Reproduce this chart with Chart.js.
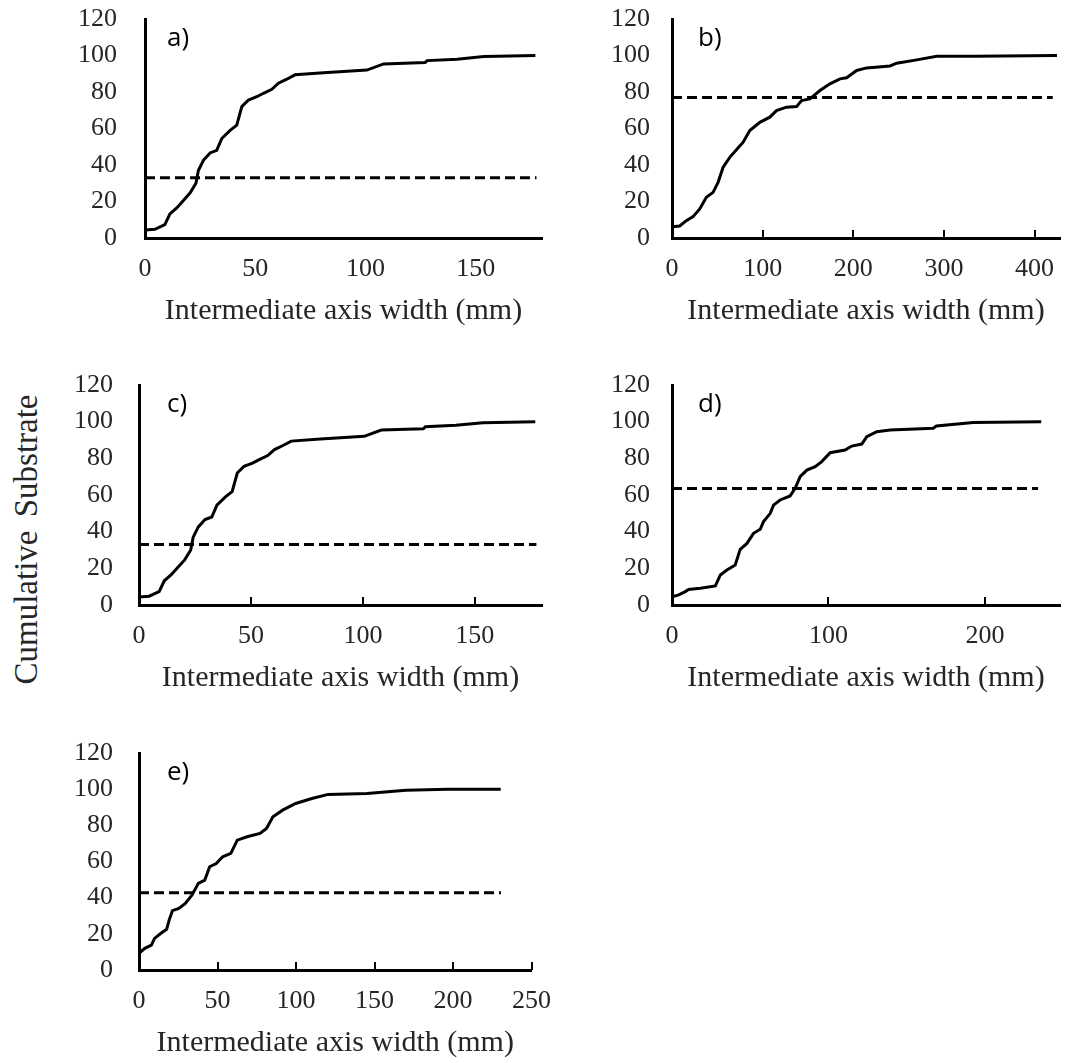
<!DOCTYPE html>
<html>
<head>
<meta charset="utf-8">
<script src="https://cdn.jsdelivr.net/npm/chart.js@4.4.1/dist/chart.umd.min.js"></script>
<style>
  body { margin: 0; background: #fff; }
  #page { position: relative; width: 1080px; height: 1063px; overflow: hidden; background: #fff; }
  canvas { position: absolute; }
  #ytitle {
    position: absolute;
    left: -134px; top: 523px;
    width: 320px; height: 33px; line-height: 33px;
    font-family: 'Liberation Serif', serif; font-size: 33px;
    word-spacing: 5px;
    text-align: center; white-space: nowrap; color: #262626;
    transform: rotate(-90deg);
  }
</style>
</head>
<body>
<div id="page">
  <div id="ytitle">Cumulative Substrate</div>
</div>
<script>
// ---- data (x: intermediate axis width, mm; y: cumulative %) ----
// panel a and c show the same distribution
const widthAC = [0, 4.5, 9, 11.3, 14.4, 17.4, 20.4, 23.1, 24.2, 26.5, 29.5, 32.5, 34.8, 38.6, 41.6, 43.9, 46.9, 50.7, 53.7, 57.5, 60.5, 64.3, 68, 81, 100.6, 108.2, 127, 127.9, 141.5, 153.6, 177];
const cumAC   = [4.4, 4.8, 7.3, 13.2, 16.5, 20.6, 24.6, 30, 37, 42.6, 46.6, 48, 54.5, 59, 61.8, 72, 75.6, 77.4, 79.3, 81.5, 84.8, 87, 89.4, 90.6, 92, 95.4, 96.1, 97.2, 98, 99.4, 100];

const widthB = [0, 8.5, 15.8, 23.2, 30.6, 37.9, 45.3, 50.8, 56.4, 63.7, 71.1, 78.5, 85.8, 96.9, 107.9, 115.3, 126.3, 137.4, 142.9, 152.1, 163.2, 174.2, 185.3, 192.6, 203.7, 214.7, 240.5, 247.9, 270, 292, 332.6, 424.7];
const cumB   = [6.2, 6.6, 9.5, 11.7, 15.9, 22.3, 25, 30.5, 38.8, 44.2, 48.3, 52.5, 58.9, 63.4, 66.2, 69.8, 71.7, 72, 75.3, 76.2, 80.8, 84.5, 87.2, 87.8, 91.8, 93.2, 94.3, 95.8, 97.6, 99.6, 99.6, 100];

const widthD = [0, 4.3, 8.5, 10.6, 18.1, 27.7, 30.9, 35.1, 40.4, 43.6, 47.9, 52.1, 56.4, 58.5, 62.8, 64.9, 69.1, 75.5, 78.7, 81.9, 86.2, 91.5, 95.7, 101.1, 110.6, 114.9, 121.3, 124.5, 130.9, 139.4, 167, 169, 192.6, 236];
const cumD   = [4.5, 5.5, 7.3, 8.5, 9.1, 10.4, 16.4, 19.1, 21.8, 30.4, 33.6, 39.1, 41.3, 45.5, 50, 54.5, 57.3, 59.5, 63.6, 70, 73.6, 75.5, 78.2, 83.1, 84.5, 86.7, 87.8, 91.8, 94.5, 95.5, 96.4, 97.6, 99.5, 100];

const widthE = [0, 3.7, 7.9, 9.9, 14, 17.6, 19.2, 21.3, 25.4, 29.5, 33.7, 37.8, 41.9, 45, 49.2, 53.3, 58.5, 62.6, 68.8, 77.1, 81.2, 85.3, 91.5, 99.8, 110.1, 120.5, 145.2, 170, 196.9, 230.4];
const cumE   = [9.2, 12, 13.8, 17.5, 20.3, 22.5, 27.6, 32.8, 34.1, 36.8, 41.4, 47.9, 49.7, 57.1, 58.9, 62.6, 64.5, 71.8, 73.7, 75.5, 78.3, 84.7, 88.4, 92.1, 94.8, 97.1, 97.6, 99.4, 100, 100];

// dashed reference levels and where the dashed line stops
const refLevel = { a: 33, b: 77, c: 33, d: 63.6, e: 42.7 };
const refEnd   = { a: 177.5, b: 420, c: 177.5, d: 234, e: 230.5 };

// axis limits
const xMaxs  = { a: 180, b: 428, c: 180, d: 248, e: 250 };
const xSteps = { a: 50, b: 100, c: 50, d: 100, e: 50 };
const yTicks = [0, 20, 40, 60, 80, 100, 120];

const X_TITLE = 'Intermediate axis width (mm)';

// ---- layout (plot area in page pixels) ----
const YW = 80, RP = 25, XH = 95;
const panels = [
  { key: 'a', x: widthAC, y: cumAC, box: [145, 19, 542, 238], inner: false, yPad: 28, dx: 22 },
  { key: 'b', x: widthB,  y: cumB,  box: [672, 19, 1060, 238], inner: true, yPad: 22, dx: 26 },
  { key: 'c', x: widthAC, y: cumAC, box: [139, 385, 542, 605], inner: true, yPad: 26, dx: 28 },
  { key: 'd', x: widthD,  y: cumD,  box: [672, 385, 1060, 605], inner: true, yPad: 22, dx: 26 },
  { key: 'e', x: widthE,  y: cumE,  box: [139, 753, 542, 970], inner: true, yPad: 26, dx: 28 }
];

const TEXT = '#262626';
const serif = 'Liberation Serif';

// small upward tick marks on the x axis
const innerTicks = {
  id: 'innerTicks',
  afterDraw(chart, args, opts) {
    if (!opts.display) return;
    const { ctx, chartArea } = chart;
    const xs = chart.scales.x;
    ctx.save();
    ctx.strokeStyle = '#000';
    ctx.lineWidth = 2;
    xs.ticks.forEach(t => {
      const px = Math.round(xs.getPixelForValue(t.value));
      ctx.beginPath();
      ctx.moveTo(px, chartArea.bottom);
      ctx.lineTo(px, chartArea.bottom - opts.length);
      ctx.stroke();
    });
    ctx.restore();
  }
};

// "a)", "b)" ... inside the plot
const panelLabel = {
  id: 'panelLabel',
  afterDraw(chart, args, opts) {
    const { ctx, chartArea } = chart;
    ctx.save();
    ctx.font = '26px "Open Sans"';
    ctx.fillStyle = '#000';
    ctx.textBaseline = 'alphabetic';
    ctx.fillText(opts.text, chartArea.left + opts.dx, chartArea.top + opts.dy);
    ctx.restore();
  }
};

const page = document.getElementById('page');

panels.forEach(p => {
  const [l, t, r, b] = p.box;
  // y tick padding also pads the top of the plot, so leave room for it
  const TP = p.yPad + 17;
  const canvas = document.createElement('canvas');
  const w = YW + (r - l) + RP;
  const h = TP + (b - t) + XH;
  canvas.width = w;
  canvas.height = h;
  canvas.style.left = (l - YW) + 'px';
  canvas.style.top = (t - TP) + 'px';
  canvas.style.width = w + 'px';
  canvas.style.height = h + 'px';
  page.appendChild(canvas);

  new Chart(canvas, {
    type: 'scatter',
    data: {
      datasets: [{
        data: p.x.map((v, i) => ({ x: v, y: p.y[i] })),
        borderColor: '#000',
        borderWidth: 3,
        pointRadius: 0,
        showLine: true,
        tension: 0
      }, {
        data: [{ x: 0, y: refLevel[p.key] }, { x: refEnd[p.key], y: refLevel[p.key] }],
        borderColor: '#000',
        borderWidth: 3,
        borderDash: [10, 5],
        pointRadius: 0,
        showLine: true
      }]
    },
    options: {
      responsive: false,
      maintainAspectRatio: false,
      devicePixelRatio: 1,
      animation: false,
      layout: { padding: { top: TP, right: RP, left: 0, bottom: 0 } },
      plugins: {
        legend: { display: false },
        tooltip: { enabled: false },
        innerTicks: { display: p.inner, length: 8 },
        panelLabel: { text: p.key + ')', dx: p.dx, dy: 27 }
      },
      scales: {
        x: {
          type: 'linear',
          min: 0,
          max: xMaxs[p.key],
          grid: { display: false, drawTicks: false },
          border: { display: true, color: '#000', width: 3 },
          ticks: {
            stepSize: xSteps[p.key],
            includeBounds: false,
            maxRotation: 0,
            autoSkip: false,
            padding: 16,
            color: TEXT,
            font: { family: serif, size: 26 }
          },
          title: {
            display: true,
            text: X_TITLE,
            color: TEXT,
            font: { family: serif, size: 30 },
            padding: { top: 0, bottom: 4 }
          },
          afterFit(s) { s.height = XH; }
        },
        y: {
          min: 0,
          max: 120,
          grid: { display: false, drawTicks: false },
          border: { display: true, color: '#000', width: 3 },
          afterBuildTicks(s) { s.ticks = yTicks.map(v => ({ value: v })); },
          ticks: {
            autoSkip: false,
            padding: p.yPad,
            color: TEXT,
            font: { family: serif, size: 26 }
          },
          afterFit(s) { s.width = YW; }
        }
      }
    },
    plugins: [innerTicks, panelLabel]
  });
});
</script>
</body>
</html>
